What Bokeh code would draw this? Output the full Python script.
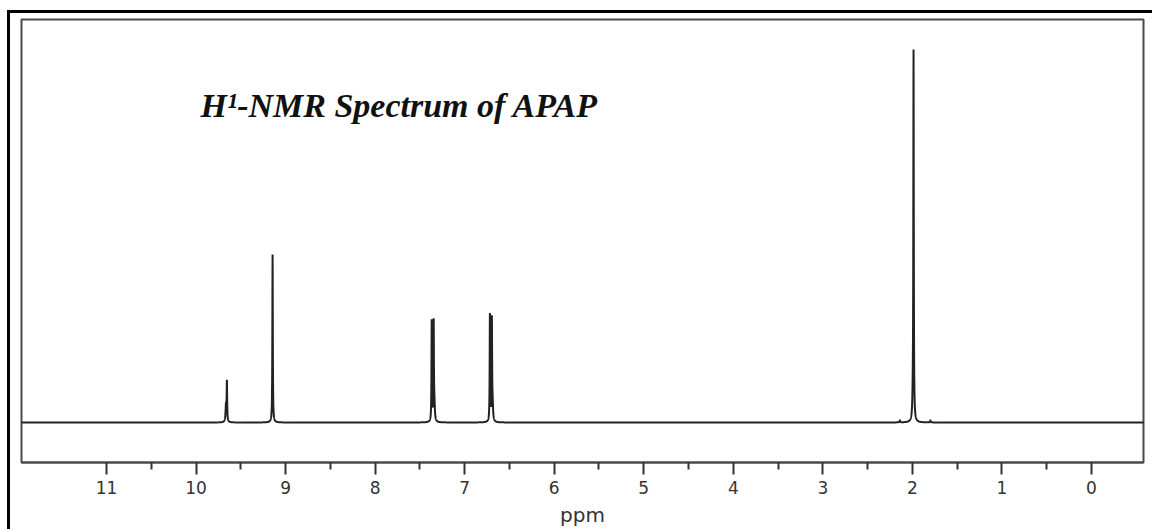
import numpy as np
from bokeh.plotting import figure
from bokeh.layouts import column
from bokeh.models import Range1d, FixedTicker, Label
from bokeh.embed import file_html
from bokeh.resources import INLINE

# Peak list of the 1H spectrum: chemical shift (ppm) and relative height
shifts = [9.655, 9.665, 9.145, 7.368, 7.346, 7.338, 6.718, 6.696, 6.688, 1.987, 1.995, 2.140, 1.800]
heights = [10.4, 4.6, 45.8, 27.5, 26.4, 4.2, 29.2, 27.2, 4.2, 100.0, 4.6, 0.6, 0.6]
widths = [0.003, 0.006, 0.003, 0.003, 0.003, 0.006, 0.003, 0.003, 0.006, 0.003, 0.006, 0.004, 0.004]

major_ticks = list(range(0, 12))
minor_ticks = [0.5, 1.5, 2.5, 3.5, 4.5, 5.5, 6.5, 7.5, 8.5, 9.5, 10.5]
title_text = "H\u00b9-NMR Spectrum of APAP"
x_label = "ppm"

# Lorentzian line shapes summed on a fine chemical-shift grid
ppm = np.round(np.arange(-0.6, 12.0, 0.001), 3)
intensity = np.zeros_like(ppm)
for c, h, w in zip(shifts, heights, widths):
    intensity += h * w ** 2 / ((ppm - c) ** 2 + w ** 2)

p = figure(width=1142, height=516, output_backend="svg", toolbar_location=None,
           x_range=Range1d(11.949, -0.581), y_range=Range1d(-10.9, 109.81),
           y_axis_type=None, min_border_left=11, min_border_top=6,
           min_border_right=9, min_border_bottom=67)
p.xgrid.visible = False
p.ygrid.visible = False
p.background_fill_color = "white"
p.border_fill_color = "white"
p.outline_line_color = "#4a4a4a"
p.outline_line_width = 2

p.line(ppm, intensity, line_color="#222222", line_width=2)

ax = p.xaxis[0]
ax.ticker = FixedTicker(ticks=major_ticks, minor_ticks=minor_ticks)
ax.axis_line_color = "#4a4a4a"
ax.axis_line_width = 2
ax.major_tick_line_color = "#333333"
ax.major_tick_line_width = 2
ax.major_tick_out = 12
ax.major_tick_in = 0
ax.minor_tick_line_color = "#333333"
ax.minor_tick_line_width = 2
ax.minor_tick_out = 7
ax.minor_tick_in = 0
ax.major_label_text_font = "DejaVu Sans"
ax.major_label_text_font_size = "17px"
ax.major_label_text_color = "#333333"
ax.major_label_standoff = 6
ax.axis_label = x_label
ax.axis_label_text_font = "DejaVu Sans"
ax.axis_label_text_font_style = "normal"
ax.axis_label_text_font_size = "20px"
ax.axis_label_text_color = "#333333"
ax.axis_label_standoff = 6

p.add_layout(Label(x=9.95, y=86.5, text=title_text, text_font="Liberation Serif",
                   text_font_style="bold italic", text_font_size="34px",
                   text_color="#111111", text_baseline="alphabetic"))

page = column(p, margin=(10, 0, 0, 7),
              styles={"border-left": "3px solid #000", "border-top": "3px solid #000"})

open("out.html", "w").write(file_html(page, INLINE))
